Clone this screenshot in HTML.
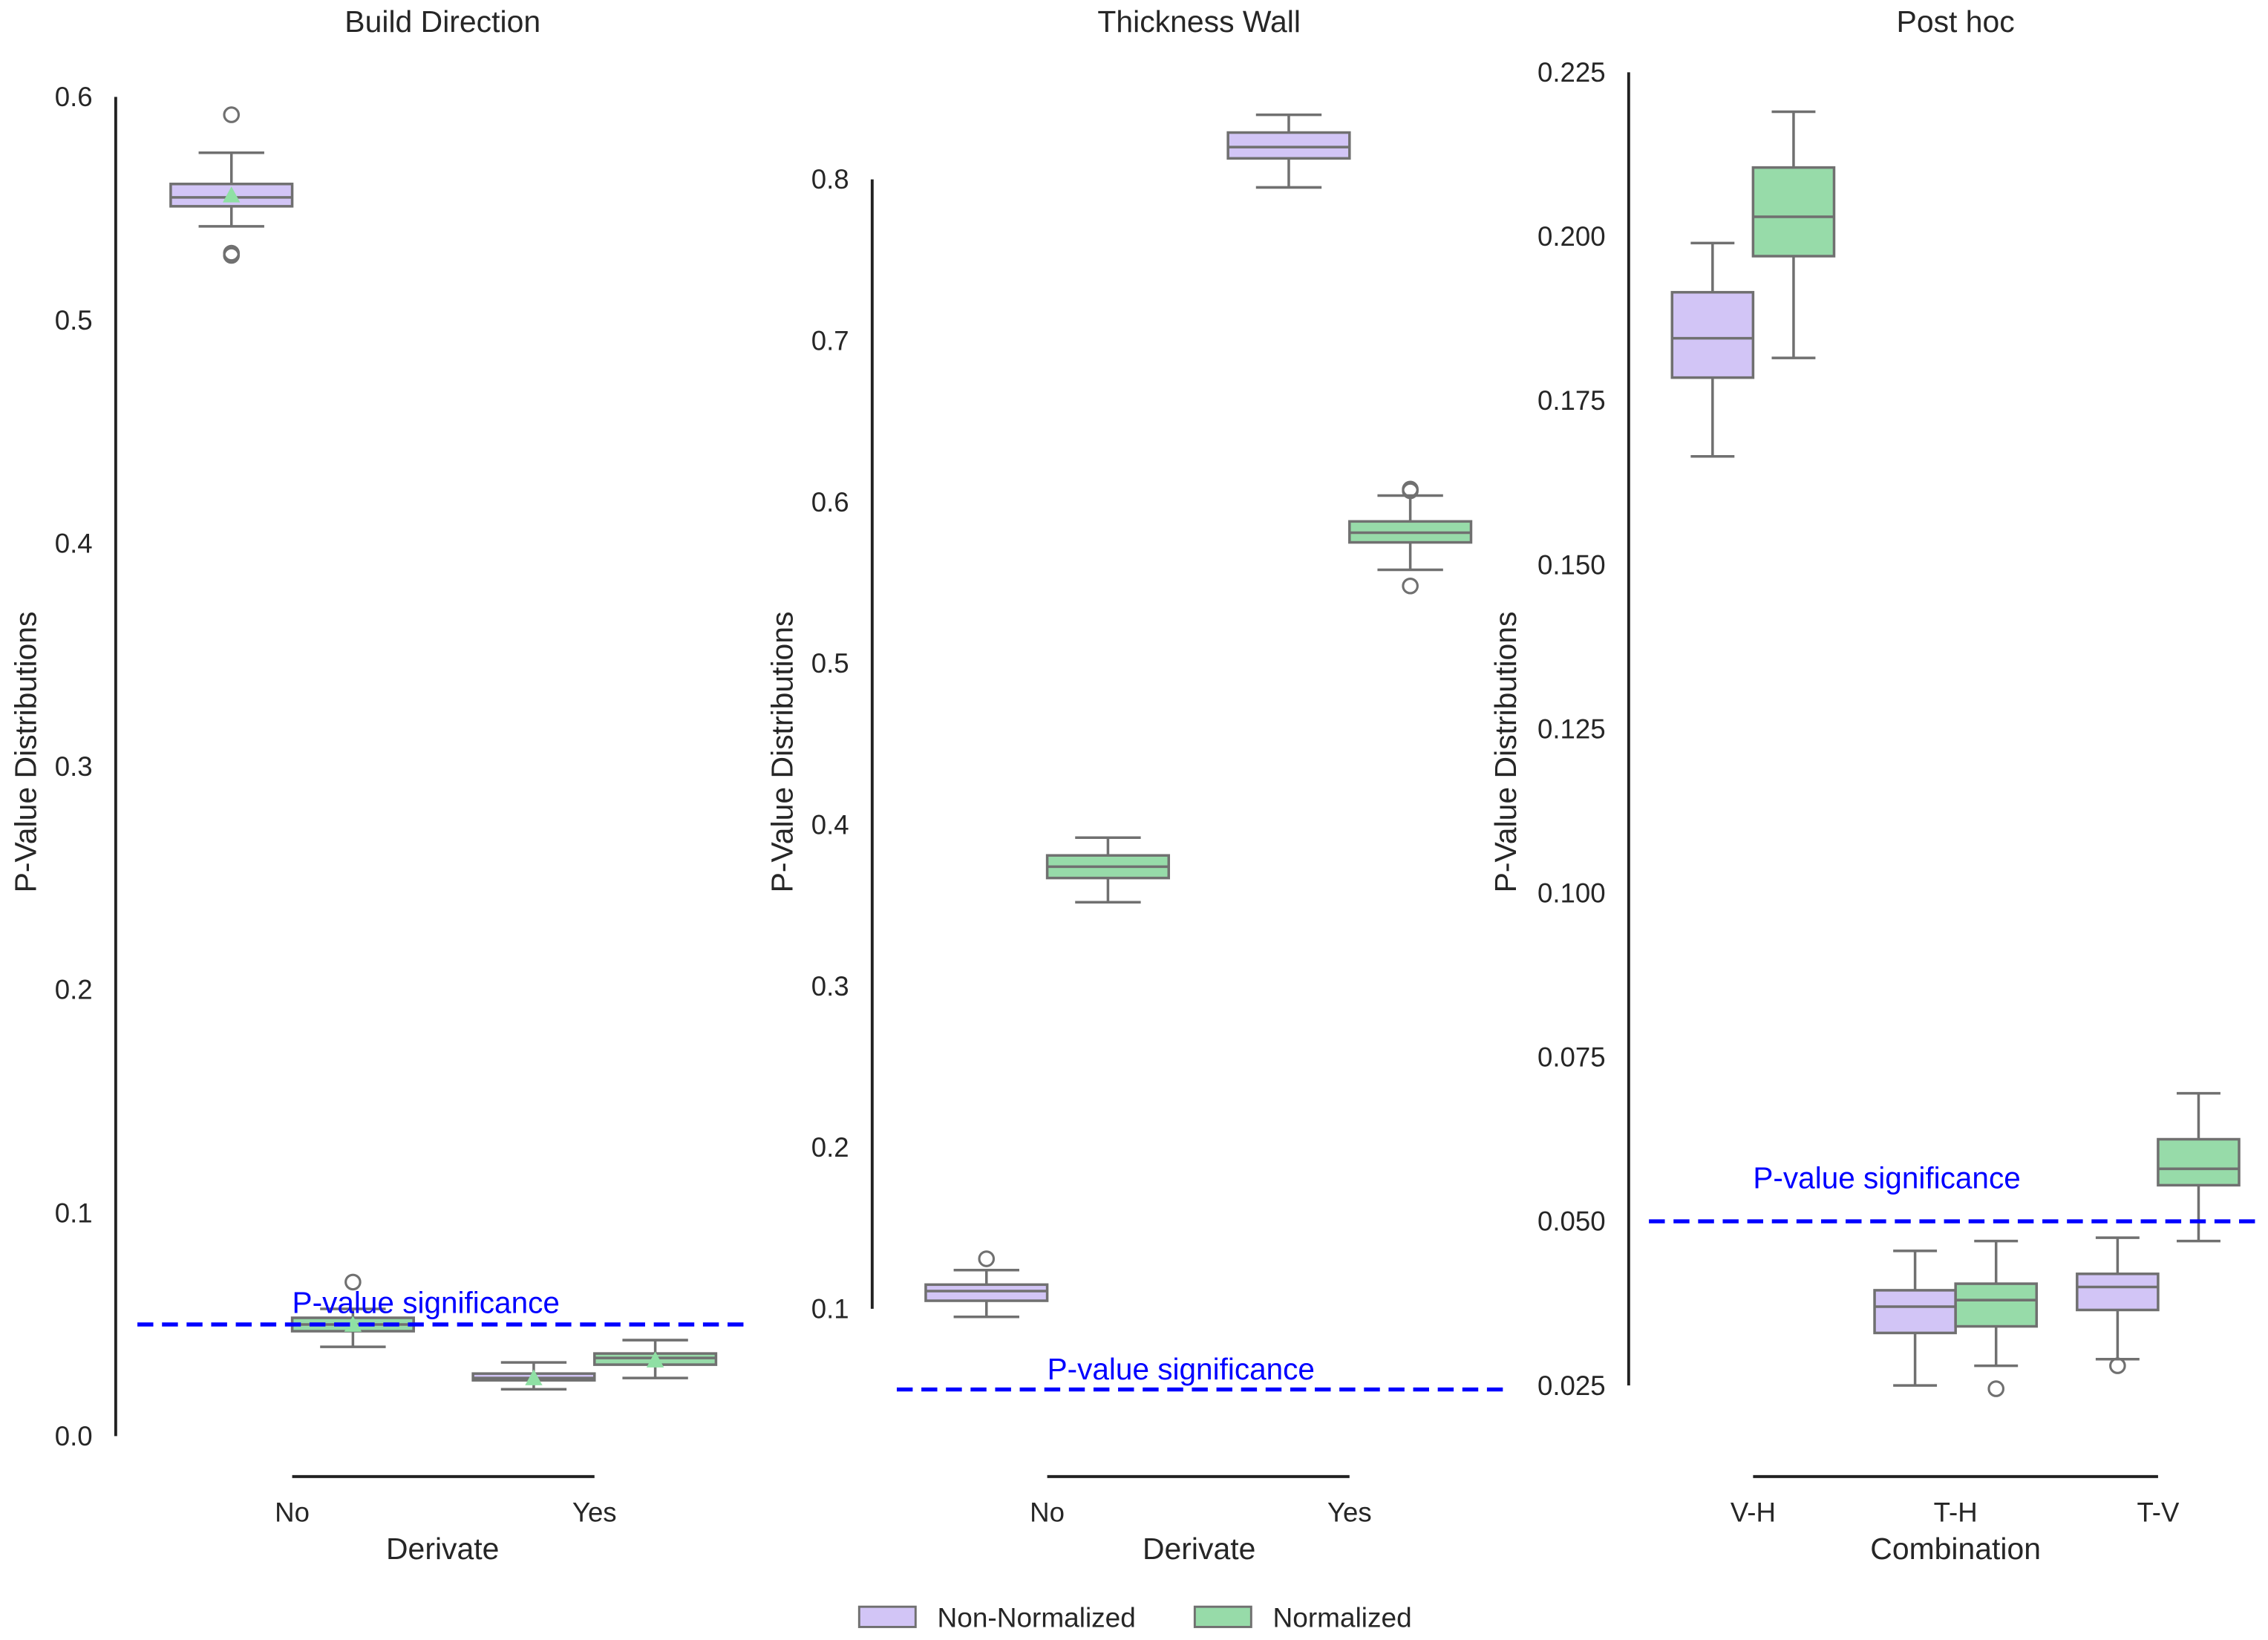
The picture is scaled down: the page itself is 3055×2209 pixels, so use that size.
<!DOCTYPE html>
<html><head><meta charset="utf-8"><style>
html,body{margin:0;padding:0;background:#fff}
svg{display:block;font-family:"Liberation Sans",sans-serif}
</style></head><body>
<svg id="fig" width="3055" height="2209" viewBox="0 0 1568 1134" preserveAspectRatio="none"></svg>
<script>
// ---- data ----
const panel1Categories = ["No", "Yes"];
const panel1NonNorm = [[0.542, 0.551, 0.555, 0.561, 0.575], [0.021, 0.025, 0.026, 0.028, 0.033]];
const panel1Norm = [[0.040, 0.047, 0.050, 0.053, 0.057], [0.026, 0.032, 0.035, 0.037, 0.043]];
const panel1NonNormOutliers = [[0.592, 0.529, 0.530], []];
const panel1NormOutliers = [[0.069], []];
const panel1NonNormMeans = [0.556, 0.026];
const panel1NormMeans = [0.050, 0.034];
const panel1Ticks = [0.0, 0.1, 0.2, 0.3, 0.4, 0.5, 0.6];

const panel2Categories = ["No", "Yes"];
const panel2NonNorm = [[0.095, 0.105, 0.111, 0.115, 0.124], [0.795, 0.813, 0.820, 0.829, 0.840]];
const panel2Norm = [[0.352, 0.367, 0.374, 0.381, 0.392], [0.558, 0.575, 0.581, 0.588, 0.604]];
const panel2NonNormOutliers = [[0.131], []];
const panel2NormOutliers = [[], [0.608, 0.607, 0.548]];
const panel2Ticks = [0.1, 0.2, 0.3, 0.4, 0.5, 0.6, 0.7, 0.8];

const panel3Categories = ["V-H", "T-H", "T-V"];
const panel3NonNorm = [[0.1665, 0.1785, 0.1845, 0.1915, 0.199], [0.025, 0.033, 0.037, 0.0395, 0.0455], [0.029, 0.0365, 0.040, 0.042, 0.0475]];
const panel3Norm = [[0.1815, 0.197, 0.203, 0.2105, 0.219], [0.028, 0.034, 0.038, 0.0405, 0.047], [0.047, 0.0555, 0.058, 0.0625, 0.0695]];
const panel3NonNormOutliers = [[], [], [0.028]];
const panel3NormOutliers = [[], [0.0245], []];
const panel3Ticks = [0.025, 0.050, 0.075, 0.100, 0.125, 0.150, 0.175, 0.200, 0.225];
const significance = 0.05;

// ---- drawing ----
const NS = "http://www.w3.org/2000/svg";
const svg = document.getElementById("fig");
function el(tag, attrs, parent) {
  const e = document.createElementNS(NS, tag);
  for (const k in attrs) e.setAttribute(k, attrs[k]);
  (parent || svg).appendChild(e);
  return e;
}
function txt(s, attrs, parent) { const t = el("text", attrs, parent); t.textContent = s; return t; }
const NN_FILL = "#d2c5f6", N_FILL = "#97dba9", EDGE = "#707070";

function drawPanel(cfg) {
  const g = el("g", {});
  
  
  const y = v => cfg.y0px - (v - cfg.v0) * cfg.scale;
  const x = i => cfg.cx0 + i * cfg.step;
  const t = txt(cfg.title, {x: cfg.titleX, y: 22, "text-anchor": "middle", "font-size": 21, fill: "#262626"}, g);
  
  
  const ya = el("line", {x1: cfg.axisX, x2: cfg.axisX, y1: y(cfg.ticks[cfg.ticks.length-1]), y2: y(cfg.ticks[0]), stroke: "#222", "stroke-width": 2}, g);
  
  
  cfg.ticks.forEach(v => {
    const tl = txt(v.toFixed(cfg.dec), {x: cfg.axisX - 16, y: y(v) + 6.5, "text-anchor": "end", "font-size": 18.8, fill: "#262626"}, g);
    
    
  });
  const yt = txt("P-Value Distributions", {x: 0, y: 0, "text-anchor": "middle", "font-size": 21, fill: "#262626", transform: `translate(${cfg.ytitleX},520) rotate(-90)`}, g);
  
  
  const n = cfg.cats.length;
  const xa = el("line", {x1: x(0), x2: x(n-1), y1: 1021, y2: 1021, stroke: "#222", "stroke-width": 2}, g);
  
  
  cfg.cats.forEach((c, i) => {
    const xl = txt(c, {x: x(i), y: 1052, "text-anchor": "middle", "font-size": 18.8, fill: "#262626"}, g);
    
    
  });
  const xt = txt(cfg.xtitle, {x: cfg.titleX, y: 1078, "text-anchor": "middle", "font-size": 21, fill: "#262626"}, g);
  
  
  function box(stats, cx, fill, outs, mean, name) {
    const bg = el("g", {}, g);
    
    
    const hw = cfg.boxW / 2, cw = cfg.boxW * 0.27;
    const [lo, q1, med, q3, hi] = stats;
    el("line", {x1: cx, x2: cx, y1: y(hi), y2: y(q3), stroke: EDGE, "stroke-width": 1.8}, bg);
    el("line", {x1: cx, x2: cx, y1: y(q1), y2: y(lo), stroke: EDGE, "stroke-width": 1.8}, bg);
    el("line", {x1: cx-cw, x2: cx+cw, y1: y(hi), y2: y(hi), stroke: EDGE, "stroke-width": 1.8}, bg);
    el("line", {x1: cx-cw, x2: cx+cw, y1: y(lo), y2: y(lo), stroke: EDGE, "stroke-width": 1.8}, bg);
    el("rect", {x: cx-hw, y: y(q3), width: cfg.boxW, height: y(q1)-y(q3), fill: fill, stroke: EDGE, "stroke-width": 1.8}, bg);
    el("line", {x1: cx-hw, x2: cx+hw, y1: y(med), y2: y(med), stroke: EDGE, "stroke-width": 1.8}, bg);
    outs.forEach(o => el("circle", {cx: cx, cy: y(o), r: 5, fill: "none", stroke: EDGE, "stroke-width": 1.6}, bg));
    if (mean !== undefined) {
      const my = y(mean);
      el("polygon", {points: `${cx-6},${my+5} ${cx+6},${my+5} ${cx},${my-6}`, fill: "#8fe0a4"}, bg);
    }
  }
  cfg.cats.forEach((c, i) => {
    box(cfg.nn[i], x(i) - cfg.off, NN_FILL, cfg.nnOut[i], cfg.nnMean ? cfg.nnMean[i] : undefined, "box-non-normalized-" + c.toLowerCase());
    box(cfg.nr[i], x(i) + cfg.off, N_FILL, cfg.nrOut[i], cfg.nrMean ? cfg.nrMean[i] : undefined, "box-normalized-" + c.toLowerCase());
  });
  const sl = el("line", {x1: cfg.dash[0], x2: cfg.dash[1], y1: y(significance), y2: y(significance), stroke: "#0000ff", "stroke-width": 2.8, "stroke-dasharray": "11 6"}, g);
  
  
  const st = txt("P-value significance", {x: cfg.sigX, y: y(significance) + cfg.sigDy, "font-size": 20.8, fill: "#0000ff"}, g);
  
  
}

drawPanel({name: "panel-build-direction", title: "Build Direction", titleX: 306, xtitle: "Derivate",
  cats: panel1Categories, nn: panel1NonNorm, nr: panel1Norm, nnOut: panel1NonNormOutliers, nrOut: panel1NormOutliers,
  nnMean: panel1NonNormMeans, nrMean: panel1NormMeans, ticks: panel1Ticks, dec: 1,
  v0: 0, y0px: 993, scale: 1543.3, axisX: 80, ytitleX: 25, cx0: 202, step: 209, off: 42, boxW: 84,
  dash: [95, 516], sigX: 202, sigDy: -8});
drawPanel({name: "panel-thickness-wall", title: "Thickness Wall", titleX: 829, xtitle: "Derivate",
  cats: panel2Categories, nn: panel2NonNorm, nr: panel2Norm, nnOut: panel2NonNormOutliers, nrOut: panel2NormOutliers,
  ticks: panel2Ticks, dec: 1,
  v0: 0.1, y0px: 905, scale: 1115.7, axisX: 603, ytitleX: 548, cx0: 724, step: 209, off: 42, boxW: 84,
  dash: [620, 1040], sigX: 724, sigDy: -7});
drawPanel({name: "panel-post-hoc", title: "Post hoc", titleX: 1352, xtitle: "Combination",
  cats: panel3Categories, nn: panel3NonNorm, nr: panel3Norm, nnOut: panel3NonNormOutliers, nrOut: panel3NormOutliers,
  ticks: panel3Ticks, dec: 3,
  v0: 0.025, y0px: 958, scale: 4540, axisX: 1126, ytitleX: 1048, cx0: 1212, step: 140, off: 28, boxW: 56,
  dash: [1140, 1562], sigX: 1212, sigDy: -23});

const lg = el("g", {});


const e1 = el("g", {}, lg);


el("rect", {x: 594, y: 1111, width: 39, height: 14, fill: NN_FILL, stroke: EDGE, "stroke-width": 1.5}, e1);
txt("Non-Normalized", {x: 648, y: 1125, "font-size": 19, fill: "#262626"}, e1);
const e2 = el("g", {}, lg);


el("rect", {x: 826, y: 1111, width: 39, height: 14, fill: N_FILL, stroke: EDGE, "stroke-width": 1.5}, e2);
txt("Normalized", {x: 880, y: 1125, "font-size": 19, fill: "#262626"}, e2);
</script>
</body></html>
